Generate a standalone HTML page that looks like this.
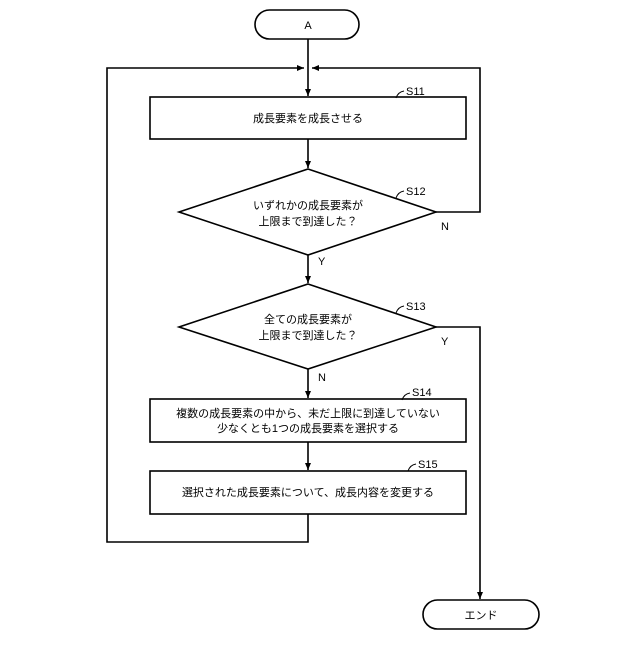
<!DOCTYPE html>
<html><head><meta charset="utf-8"><style>
body{margin:0;background:#fff}
text{font-family:"Liberation Sans","Noto Sans CJK JP",sans-serif;fill:#000}
</style></head><body>
<svg width="640" height="640" viewBox="0 0 640 640" xmlns="http://www.w3.org/2000/svg">
<defs><marker id="a" markerWidth="8" markerHeight="8" refX="7" refY="4" orient="auto" markerUnits="userSpaceOnUse"><path d="M0,1 L7,4 L0,7 Z" fill="#000"/></marker></defs>
<g fill="none" stroke="#000" stroke-width="1.6">
<rect x="255" y="10" width="104" height="29" rx="14.5" fill="#fff"/>
<line x1="308" y1="39" x2="308" y2="96" marker-end="url(#a)"/>
<polyline points="308,514 308,542 107,542 107,68 304,68" marker-end="url(#a)"/>
<polyline points="436,212 480,212 480,68 312,68" marker-end="url(#a)"/>
<rect x="150" y="97" width="316" height="42"/>
<line x1="308" y1="139" x2="308" y2="168" marker-end="url(#a)"/>
<polygon points="308,169 436,212 308,255 179,212"/>
<line x1="308" y1="255" x2="308" y2="283" marker-end="url(#a)"/>
<polygon points="308,284 436,327 308,369 179,327"/>
<polyline points="436,327 480,327 480,599" marker-end="url(#a)"/>
<line x1="308" y1="369" x2="308" y2="398" marker-end="url(#a)"/>
<rect x="150" y="399" width="316" height="43"/>
<line x1="308" y1="442" x2="308" y2="470" marker-end="url(#a)"/>
<rect x="150" y="471" width="316" height="43"/>
<rect x="423" y="600" width="116" height="29" rx="14.5" fill="#fff"/>
<g stroke-width="1">
<path d="M396,98 q2,-6 8,-7"/><path d="M396,198 q2,-6 8,-7"/><path d="M396,313 q2,-6 8,-7"/><path d="M402,400 q2,-6 8,-7"/><path d="M408,471 q2,-6 8,-7"/>
</g>
</g>
<g font-size="11">
<text x="308" y="29" text-anchor="middle">A</text>
<text x="308" y="122" text-anchor="middle">成長要素を成長させる</text>
<text x="308" y="209" text-anchor="middle">いずれかの成長要素が</text>
<text x="308" y="225" text-anchor="middle">上限まで到達した？</text>
<text x="308" y="323" text-anchor="middle">全ての成長要素が</text>
<text x="308" y="339" text-anchor="middle">上限まで到達した？</text>
<text x="308" y="417" text-anchor="middle">複数の成長要素の中から、未だ上限に到達していない</text>
<text x="308" y="432" text-anchor="middle">少なくとも1つの成長要素を選択する</text>
<text x="308" y="496" text-anchor="middle">選択された成長要素について、成長内容を変更する</text>
<text x="481" y="619" text-anchor="middle">エンド</text>
<text x="406" y="95">S11</text>
<text x="406" y="195">S12</text>
<text x="406" y="310">S13</text>
<text x="412" y="396">S14</text>
<text x="418" y="468">S15</text>
<text x="441" y="230">N</text>
<text x="318" y="265">Y</text>
<text x="441" y="345">Y</text>
<text x="318" y="381">N</text>
</g>
</svg>
</body></html>
